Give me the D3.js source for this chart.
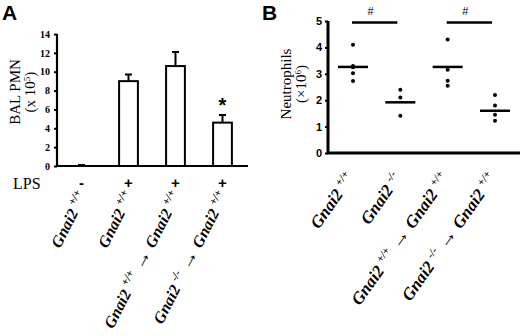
<!DOCTYPE html>
<html>
<head>
<meta charset="utf-8">
<script src="https://cdn.jsdelivr.net/npm/d3@7"></script>
<style>
  body { margin: 0; background: #fff; }
  svg { display: block; }
</style>
</head>
<body>
<svg id="chart" width="520" height="336"></svg>
<script>
// panel A data
const groups = ["wt", "wt", "wt->wt", "ko->wt"];
const lps = ["-", "+", "+", "+"];
const pmnMean = [0.05, 9.0, 10.6, 4.6];
const pmnErr = [0.05, 0.7, 1.5, 0.8];
const starFlags = [false, false, false, true];
const ticksA = [0, 2, 4, 6, 8, 10, 12, 14];

// panel B data
const groupsB = ["wt", "ko", "wt->wt", "ko->wt"];
const neutroDots = [
  [4.1, 3.3, 3.25, 3.02, 2.73],
  [2.4, 2.1, 1.41],
  [4.3, 3.15, 2.74, 2.55],
  [2.2, 1.8, 1.45, 1.22]
];
const neutroMedian = [3.26, 1.92, 3.26, 1.6];
const sigPairs = [[0, 1], [2, 3]];
const ticksB = [0, 1, 2, 3, 4, 5];

const svg = d3.select("#chart");

// label pieces: [text, kind]  kind: n = normal, s = superscript, a = arrow
const labelParts = {
  "wt": [["Gnai2 ", "n"], ["+/+", "s"]],
  "ko": [["Gnai2 ", "n"], ["-/-", "s"]],
  "wt->wt": [["Gnai2 ", "n"], ["+/+", "s"], [" \u2192 ", "a"], ["Gnai2 ", "n"], ["+/+", "s"]],
  "ko->wt": [["Gnai2 ", "n"], ["-/-", "s"], [" \u2192 ", "a"], ["Gnai2 ", "n"], ["+/+", "s"]]
};

function drawLabel(g, key, x, y, angle, size) {
  let t = g.append("text")
    .attr("transform", `translate(${x},${y}) rotate(${angle})`)
    .attr("text-anchor", "end")
    .style("font-family", "'Liberation Serif', serif")
    .style("font-weight", "bold")
    .style("font-style", "italic")
    .style("font-size", size + "px");
  let up = false;
  for (let [s, kind] of labelParts[key]) {
    let ts = t.append("tspan").text(s);
    if (kind == "s") {
      ts.style("font-size", "11px");
      if (!up) { ts.attr("dy", -7); up = true; }
    } else {
      if (up) { ts.attr("dy", 7); up = false; }
      if (kind == "a") ts.style("font-size", "20px").style("font-style", "normal");
    }
  }
}

// ---------- panel A ----------
const xA = d3.scaleBand().domain(d3.range(4)).range([58, 246]).paddingInner(0.6).paddingOuter(0.3);
const yA = d3.scaleLinear().domain([0, 14]).range([166, 34]);

const gA = svg.append("g");

gA.selectAll(".bar")
  .data(pmnMean)
  .join("rect")
  .attr("x", (d, i) => xA(i))
  .attr("y", d => yA(d))
  .attr("width", xA.bandwidth())
  .attr("height", d => yA(0) - yA(d))
  .attr("fill", "white")
  .attr("stroke", "black")
  .attr("stroke-width", 2)
  .style("display", (d, i) => i == 0 ? "none" : null);

gA.selectAll(".err")
  .data(pmnMean)
  .join("path")
  .attr("d", (d, i) => {
    let cx = xA(i) + xA.bandwidth() / 2;
    return `M${cx},${yA(d)}V${yA(d + pmnErr[i])}M${cx - 3.5},${yA(d + pmnErr[i])}H${cx + 3.5}`;
  })
  .attr("stroke", "black")
  .attr("stroke-width", 2)
  .attr("fill", "none");

gA.selectAll(".star")
  .data(pmnMean)
  .join("text")
  .filter((d, i) => starFlags[i])
  .attr("x", (d, i) => xA(3) + xA.bandwidth() / 2)
  .attr("y", d => yA(d + pmnErr[3]) - 3)
  .attr("text-anchor", "middle")
  .style("font-family", "'Liberation Sans', sans-serif")
  .style("font-weight", "bold")
  .style("font-size", "20px")
  .text("*");

const axA = gA.append("g")
  .attr("transform", "translate(57,0)")
  .call(d3.axisLeft(yA).tickValues(ticksA).tickSize(3).tickPadding(4));
axA.select(".domain").attr("stroke-width", 2.2).attr("d", `M0,${yA(14)}V${yA(0)}`);
axA.selectAll(".tick line").attr("stroke-width", 2);
axA.selectAll(".tick text")
  .style("font-family", "'Liberation Serif', serif")
  .style("font-weight", "bold")
  .style("font-size", "10px");

gA.append("line")
  .attr("x1", 56).attr("x2", 248)
  .attr("y1", yA(0)).attr("y2", yA(0))
  .attr("stroke", "black").attr("stroke-width", 2.2);

// y title
gA.append("text")
  .attr("transform", "translate(20,92) rotate(-90)")
  .attr("text-anchor", "middle")
  .style("font-family", "'Liberation Serif', serif")
  .style("font-size", "15px")
  .text("BAL PMN");
const titleA2 = gA.append("text")
  .attr("transform", "translate(35,92) rotate(-90)")
  .attr("text-anchor", "middle")
  .style("font-family", "'Liberation Serif', serif")
  .style("font-size", "15px");
titleA2.append("tspan").text("(x 10");
titleA2.append("tspan").attr("dy", -5).style("font-size", "9px").text("5");
titleA2.append("tspan").attr("dy", 5).text(")");

// LPS row
gA.append("text")
  .attr("x", 13).attr("y", 189)
  .style("font-family", "'Liberation Serif', serif")
  .style("font-size", "16px")
  .text("LPS");
gA.selectAll(".lps")
  .data(lps)
  .join("text")
  .attr("x", (d, i) => xA(i) + xA.bandwidth() / 2)
  .attr("y", 188)
  .attr("text-anchor", "middle")
  .style("font-family", "'Liberation Sans', sans-serif")
  .style("font-weight", "bold")
  .style("font-size", "15px")
  .text(d => d);

groups.forEach((k, i) => drawLabel(gA, k, xA(i) + xA.bandwidth() / 2 + 6, 195, -63, 16));

gA.append("text")
  .attr("x", 2).attr("y", 20)
  .style("font-family", "'Liberation Sans', sans-serif")
  .style("font-weight", "bold")
  .style("font-size", "21px")
  .text("A");

// ---------- panel B ----------
const xB = d3.scalePoint().domain(d3.range(4)).range([353, 495]);
const yB = d3.scaleLinear().domain([0, 5]).range([153, 21]);

const gB = svg.append("g");

const axB = gB.append("g")
  .attr("transform", "translate(328,0)")
  .call(d3.axisLeft(yB).tickValues(ticksB).tickFormat(d3.format("d")).tickSize(3).tickPadding(3));
axB.select(".domain").attr("stroke-width", 3).attr("d", `M0,${yB(5)}V${yB(0)}`);
axB.selectAll(".tick line").attr("stroke-width", 2);
axB.selectAll(".tick text")
  .style("font-family", "'Liberation Sans', sans-serif")
  .style("font-weight", "bold")
  .style("font-size", "11px");

gB.append("line")
  .attr("x1", 327).attr("x2", 520)
  .attr("y1", yB(0)).attr("y2", yB(0))
  .attr("stroke", "black").attr("stroke-width", 3);

neutroDots.forEach((vals, i) => {
  gB.selectAll(".dot" + i)
    .data(vals)
    .join("circle")
    .attr("cx", xB(i))
    .attr("cy", d => yB(d))
    .attr("r", 2)
    .attr("fill", "black");
});

gB.selectAll(".median")
  .data(neutroMedian)
  .join("line")
  .attr("x1", (d, i) => xB(i) - 15)
  .attr("x2", (d, i) => xB(i) + 15)
  .attr("y1", d => yB(d))
  .attr("y2", d => yB(d))
  .attr("stroke", "black")
  .attr("stroke-width", 2.5);

sigPairs.forEach(([a, b]) => {
  gB.append("line")
    .attr("x1", xB(a) - 1).attr("x2", xB(b) - 3)
    .attr("y1", yB(5) + 1.5).attr("y2", yB(5) + 1.5)
    .attr("stroke", "black").attr("stroke-width", 2.5);
  gB.append("text")
    .attr("x", (xB(a) + xB(b)) / 2 - 6)
    .attr("y", 15)
    .attr("text-anchor", "middle")
    .style("font-family", "'Liberation Sans', sans-serif")
    .style("font-size", "11px")
    .text("#");
});

gB.append("text")
  .attr("transform", "translate(291,84) rotate(-90)")
  .attr("text-anchor", "middle")
  .style("font-family", "'Liberation Serif', serif")
  .style("font-size", "15px")
  .text("Neutrophils");
const titleB2 = gB.append("text")
  .attr("transform", "translate(306,84) rotate(-90)")
  .attr("text-anchor", "middle")
  .style("font-family", "'Liberation Serif', serif")
  .style("font-size", "15px");
titleB2.append("tspan").text("(\u00d710");
titleB2.append("tspan").attr("dy", -5).style("font-size", "9px").text("6");
titleB2.append("tspan").attr("dy", 5).text(")");

groupsB.forEach((k, i) => drawLabel(gB, k, xB(i) + 2, 178, -55, 17));

gB.append("text")
  .attr("x", 262).attr("y", 20)
  .style("font-family", "'Liberation Sans', sans-serif")
  .style("font-weight", "bold")
  .style("font-size", "21px")
  .text("B");
</script>
</body>
</html>
